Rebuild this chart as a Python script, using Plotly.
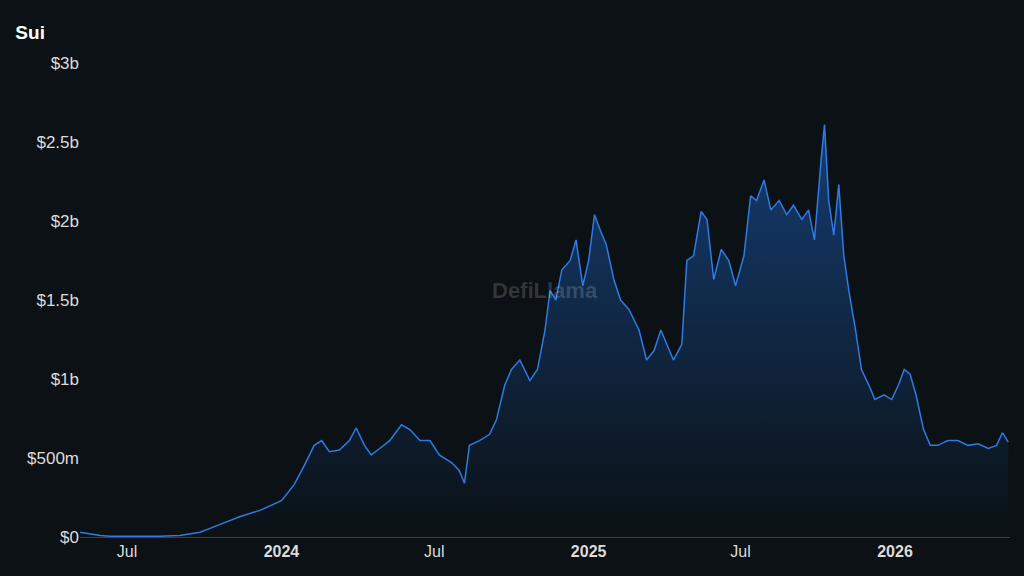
import plotly.graph_objects as go

dates = [
    "2023-05-06", "2023-05-30", "2023-06-11", "2023-07-05", "2023-08-09", "2023-09-02",
    "2023-09-26", "2023-10-20", "2023-11-13", "2023-12-07", "2023-12-19", "2024-01-01",
    "2024-01-16", "2024-01-28", "2024-02-09", "2024-02-18", "2024-02-27", "2024-03-10",
    "2024-03-22", "2024-03-30", "2024-04-09", "2024-04-17", "2024-04-27", "2024-05-09",
    "2024-05-23", "2024-06-02", "2024-06-14", "2024-06-26", "2024-07-07", "2024-07-22",
    "2024-07-31", "2024-08-06", "2024-08-12", "2024-08-24", "2024-09-05", "2024-09-13",
    "2024-09-23", "2024-10-01", "2024-10-11", "2024-10-23", "2024-11-01", "2024-11-10",
    "2024-11-16", "2024-11-23", "2024-11-30", "2024-12-10", "2024-12-17", "2024-12-25",
    "2025-01-01", "2025-01-08", "2025-01-15", "2025-01-22", "2025-01-31", "2025-02-08",
    "2025-02-18", "2025-03-02", "2025-03-11", "2025-03-20", "2025-03-28", "2025-04-04",
    "2025-04-12", "2025-04-22", "2025-04-28", "2025-05-06", "2025-05-15", "2025-05-22",
    "2025-05-30", "2025-06-08", "2025-06-17", "2025-06-25", "2025-07-05", "2025-07-13",
    "2025-07-20", "2025-07-29", "2025-08-06", "2025-08-16", "2025-08-25", "2025-09-02",
    "2025-09-12", "2025-09-20", "2025-09-27", "2025-10-05", "2025-10-09", "2025-10-14",
    "2025-10-20", "2025-10-26", "2025-11-01", "2025-11-07", "2025-11-15", "2025-11-22",
    "2025-12-01", "2025-12-08", "2025-12-19", "2025-12-28", "2026-01-05", "2026-01-12",
    "2026-01-19", "2026-01-26", "2026-02-04", "2026-02-12", "2026-02-21", "2026-03-05",
    "2026-03-17", "2026-03-29", "2026-04-10", "2026-04-22", "2026-05-02", "2026-05-09",
    "2026-05-16",
]
tvl_b = [
    0.03, 0.01, 0.005, 0.005, 0.005, 0.01,
    0.03, 0.08, 0.13, 0.17, 0.20, 0.23,
    0.33, 0.45, 0.58, 0.61, 0.54, 0.55,
    0.61, 0.69, 0.58, 0.52, 0.56, 0.61,
    0.71, 0.68, 0.61, 0.61, 0.52, 0.47,
    0.42, 0.34, 0.58, 0.61, 0.65, 0.74,
    0.96, 1.06, 1.12, 0.99, 1.06, 1.31,
    1.56, 1.50, 1.69, 1.75, 1.88, 1.59,
    1.75, 2.04, 1.94, 1.85, 1.63, 1.50,
    1.44, 1.31, 1.12, 1.18, 1.31, 1.22,
    1.12, 1.22, 1.75, 1.78, 2.06, 2.01,
    1.63, 1.82, 1.75, 1.59, 1.78, 2.16,
    2.13, 2.26, 2.07, 2.13, 2.04, 2.10,
    2.01, 2.07, 1.88, 2.39, 2.61, 2.13,
    1.91, 2.23, 1.78, 1.56, 1.31, 1.06,
    0.96, 0.87, 0.90, 0.87, 0.96, 1.06,
    1.03, 0.90, 0.68, 0.58, 0.58, 0.61,
    0.61, 0.58, 0.59, 0.56, 0.58, 0.66,
    0.60,
]
tvl = [v * 1e9 for v in tvl_b]

y_ticks = [0, 0.5e9, 1e9, 1.5e9, 2e9, 2.5e9, 3e9]
y_labels = ["$0", "$500m", "$1b", "$1.5b", "$2b", "$2.5b", "$3b"]
x_ticks = ["2023-07-01", "2024-01-01", "2024-07-01", "2025-01-01", "2025-07-01", "2026-01-01"]
x_labels = ["Jul", "<b>2024</b>", "Jul", "<b>2025</b>", "Jul", "<b>2026</b>"]

bg = "#0b1114"
fig = go.Figure()
fig.add_trace(go.Scatter(
    x=dates, y=tvl, mode="lines",
    line=dict(color="#2f7ae5", width=1.5),
    fill="tozeroy",
    fillgradient=dict(type="vertical",
                      colorscale=[[0, "rgba(33,114,229,0)"], [1, "rgba(33,114,229,0.45)"]]),
    hoverinfo="skip",
))
fig.add_annotation(text="<b>DefiLlama</b>", x=0.5, y=0.52, xref="paper", yref="paper",
                   showarrow=False, font=dict(size=22, color="rgba(255,255,255,0.16)"))
fig.update_layout(
    width=1024, height=576,
    paper_bgcolor=bg, plot_bgcolor=bg,
    margin=dict(l=80, r=14, t=63, b=39),
    showlegend=False,
    font=dict(family="Liberation Sans, Arial, sans-serif", color="#dcdcdc", size=17),
    title=dict(text="<b>Sui</b>", x=0.015, y=0.955, xanchor="left",
               font=dict(size=19, color="#ffffff")),
    xaxis=dict(range=["2023-05-06", "2026-05-18"], tickvals=x_ticks, ticktext=x_labels,
               showgrid=False, zeroline=False, showline=True, linecolor="#3a4050",
               ticks="", tickfont=dict(size=16)),
    yaxis=dict(range=[0, 3e9], tickvals=y_ticks, ticktext=y_labels,
               showgrid=False, zeroline=False, ticks="", tickfont=dict(size=17)),
)
fig.write_html("out.html", config={"displayModeBar": False})

# drop the default page margin so the dark paper fills the window
with open("out.html") as f:
    page = f.read()
page = page.replace("<body>", '<body style="margin:0;background:%s">' % bg, 1)
with open("out.html", "w") as f:
    f.write(page)
